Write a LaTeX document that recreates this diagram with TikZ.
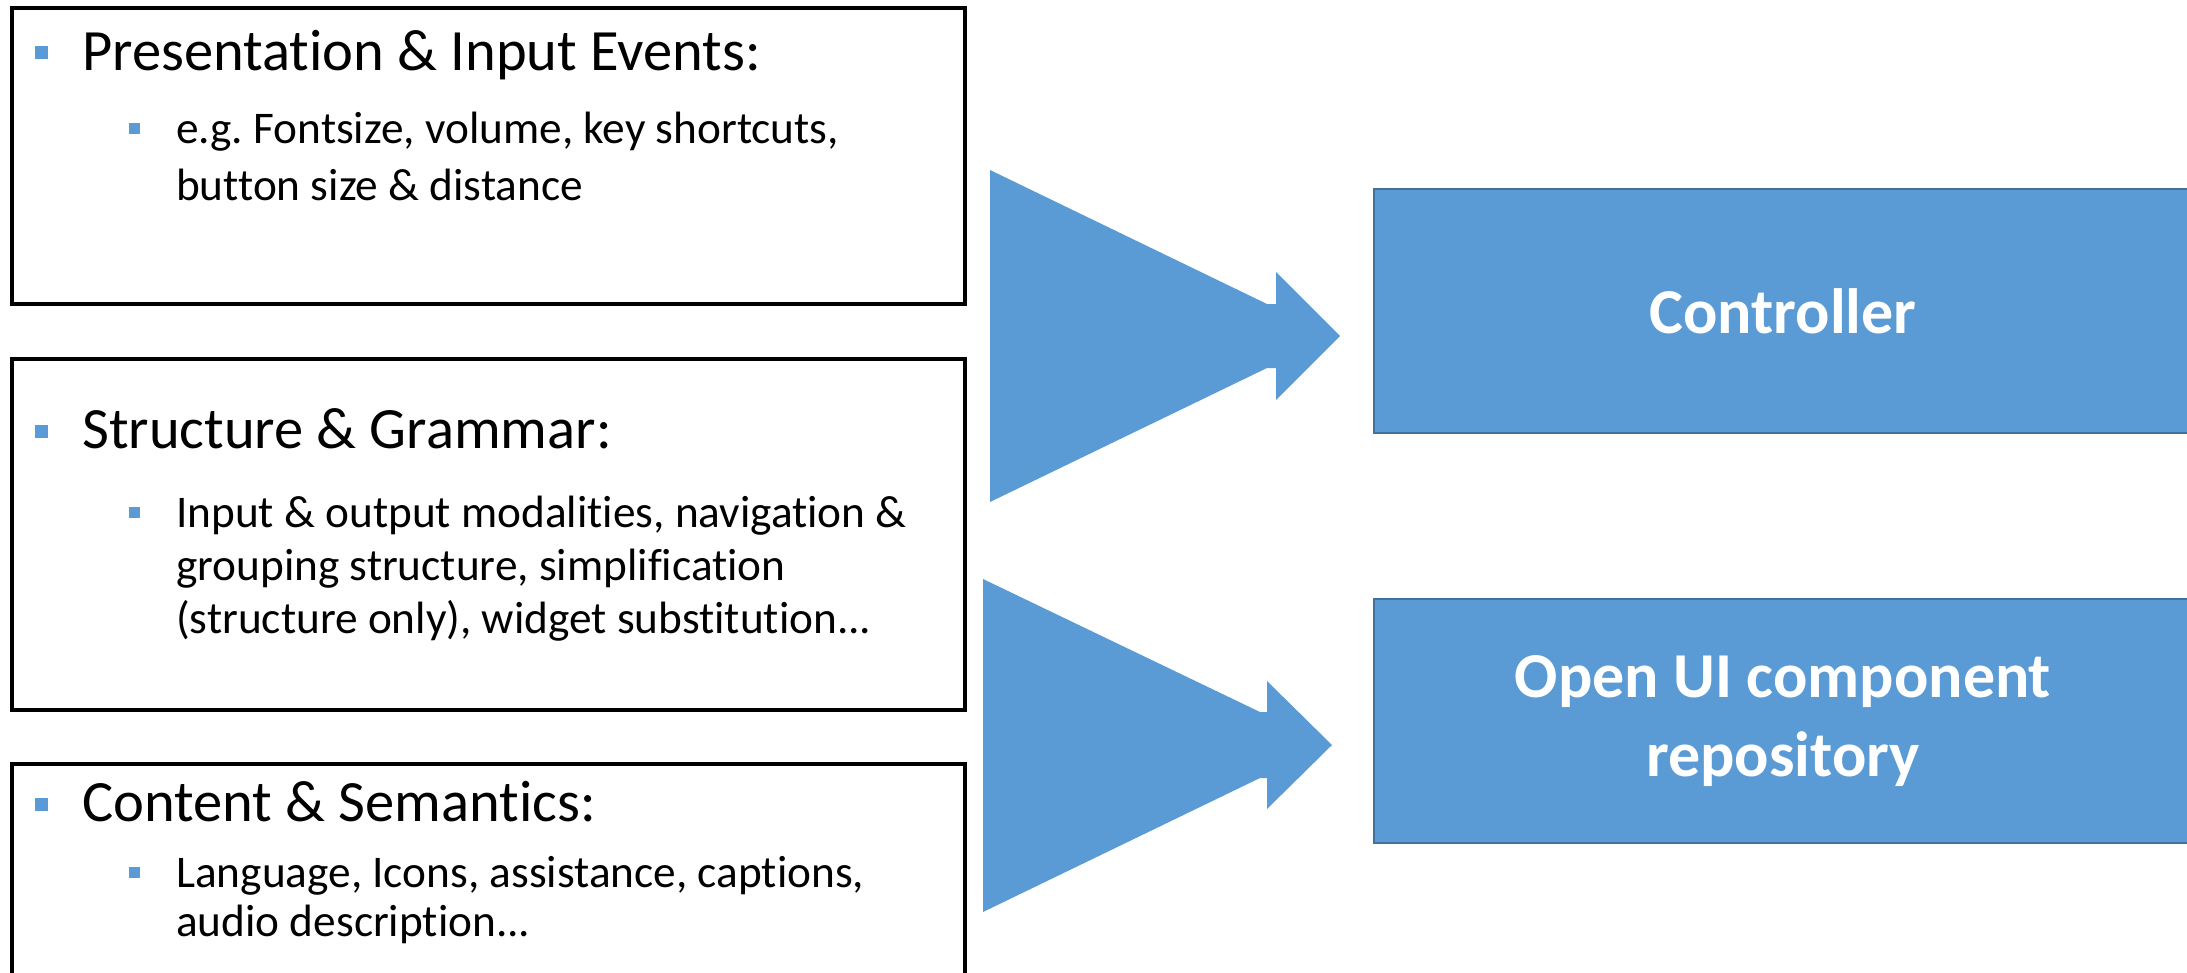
\documentclass[tikz,border=0pt]{standalone}
\usepackage{fontspec}
\setmainfont{Carlito}[Ligatures={NoCommon}]
\frenchspacing
\definecolor{offblue}{HTML}{5B9BD5}
\definecolor{offborder}{HTML}{41719C}
\begin{document}
\begin{tikzpicture}[x=1pt,y=-1pt,
  leftbox/.style={draw=black,line width=4pt,fill=white,inner sep=0pt,anchor=north west,minimum width=953pt},
  rightbox/.style={draw=offborder,line width=2pt,fill=offblue,inner sep=0pt,anchor=north west,minimum width=818pt,minimum height=244pt},
  boxlabel/.style={text=white,font=\fontsize{64}{79}\selectfont\bfseries,align=center,inner sep=0pt},
  lvlone/.style={anchor=base west,inner sep=0pt,font=\fontsize{58.5}{68}\selectfont},
  lvltwo/.style={anchor=base west,inner sep=0pt,align=left,font=\fontsize{45.3}{#1}\selectfont},
  bulone/.style={fill=offblue,inner sep=0pt,minimum size=13pt},
  bultwo/.style={fill=offblue,inner sep=0pt,minimum size=11pt},
  bigarrow/.style={fill=offblue,draw=none}
]
\useasboundingbox (0,0) rectangle (2187,972);
\clip (0,0) rectangle (2187,972);

% left boxes
\node[leftbox,minimum height=296pt] (b1) at (10,6) {};
\node[leftbox,minimum height=351pt] (b2) at (10,357) {};
\node[leftbox,minimum height=260pt] (b3) at (10,762) {};

% box 1 text (anchor = baseline of the last line)
\node[bulone] (b1p) at (41,52) {};
\node[lvlone] (b1h) at (82,70) {Presentation \& Input Events:};
\node[bultwo] (b1q) at (134.5,128) {};
\node[lvltwo=57] (b1t) at (176,200) {e.g. Fontsize, volume, key shortcuts,\\button size \& distance};

% box 2 text
\node[bulone] (b2p) at (41,431) {};
\node[lvlone] (b2h) at (82,448) {Structure \& Grammar:};
\node[bultwo] (b2q) at (134.5,512) {};
\node[lvltwo=53] (b2t) at (176,633) {Input \& output modalities, navigation \&\\grouping structure, simplification\\(structure only), widget substitution...};

% box 3 text
\node[bulone] (b3p) at (41,804) {};
\node[lvlone] (b3h) at (82,821) {Content \& Semantics:};
\node[bultwo] (b3q) at (134.5,872) {};
\node[lvltwo=49] (b3t) at (176,936) {Language, Icons, assistance, captions,\\audio description...};

% right boxes
\node[rightbox] (ctrl) at (1373,188) {};
\node[boxlabel] (ctrlt) at (ctrl.center) {Controller};
\node[rightbox] (repo) at (1373,598) {};
\node[boxlabel] (repot) at (repo.center) {Open UI component\\repository};

% big arrows
\fill[bigarrow] (990,170) -- (1267,304) -- (1276,304) -- (1276,272) -- (1340,336)
  -- (1276,400) -- (1276,368) -- (1267,368) -- (990,502) -- cycle;
\fill[bigarrow] (983,579) -- (1260,712) -- (1267,712) -- (1267,681) -- (1332,745)
  -- (1267,809) -- (1267,778) -- (1260,778) -- (983,912) -- cycle;
\end{tikzpicture}
\end{document}
